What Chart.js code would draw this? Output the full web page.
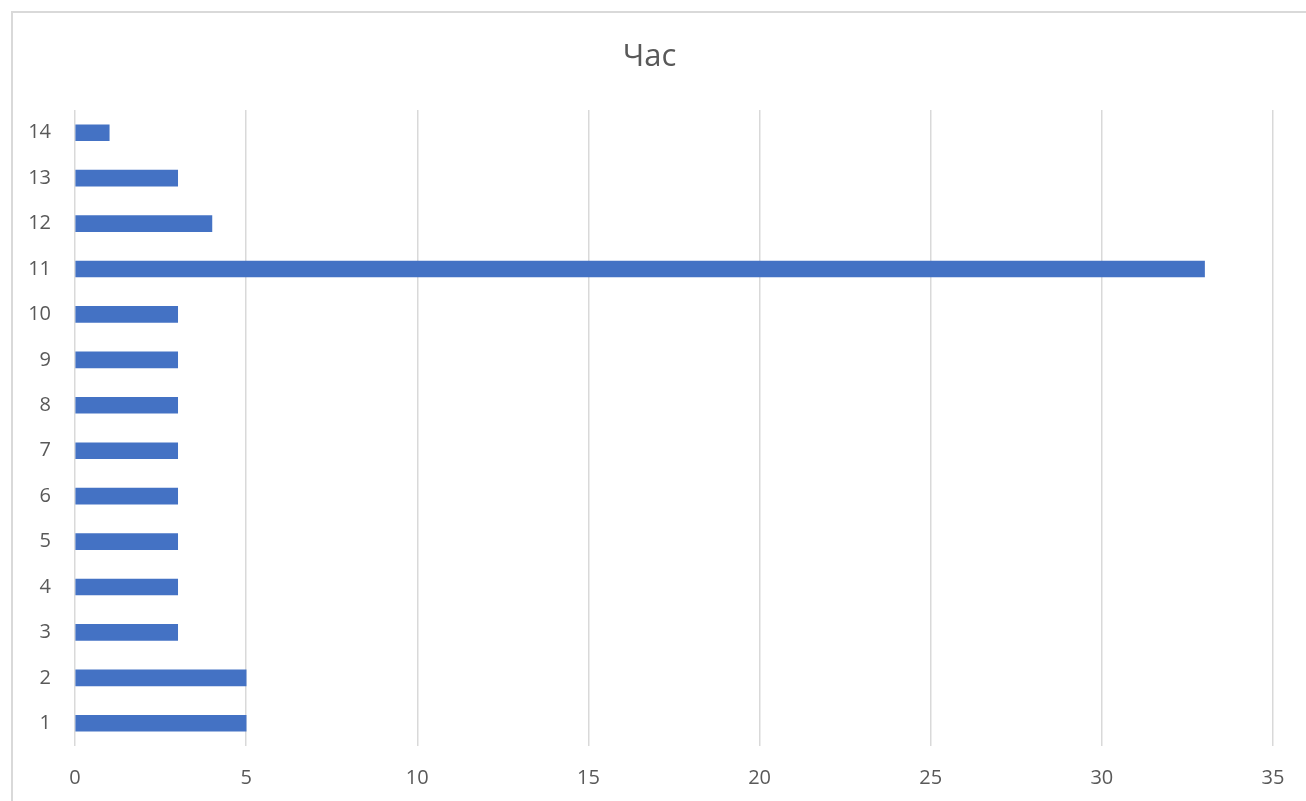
<!DOCTYPE html>
<html>
<head>
<meta charset="utf-8">
<script src="https://cdn.jsdelivr.net/npm/chart.js@4/dist/chart.umd.min.js"></script>
<style>
  body { margin: 0; background: #fff; }
  #frame {
    position: absolute; left: 11px; top: 11px; width: 1400px; height: 900px;
    border-left: 2px solid #d9d9d9; border-top: 2px solid #d9d9d9;
  }
  #wrap { position: absolute; left: 0; top: 0; width: 1306px; height: 801px; }
</style>
</head>
<body>
<div id="frame"></div>
<div id="wrap"><canvas id="myChart" width="1306" height="801"></canvas></div>
<script>
// data
var hours = ['1', '2', '3', '4', '5', '6', '7', '8', '9', '10', '11', '12', '13', '14'];
var counts = [5, 5, 3, 3, 3, 3, 3, 3, 3, 3, 33, 4, 3, 1];
var xTicks = [0, 5, 10, 15, 20, 25, 30, 35];
var chartTitle = 'Час';

var fontFamily = '"Open Sans", "Liberation Sans", sans-serif';
var textColor = '#595959';

var ctx = document.getElementById('myChart').getContext('2d');
var myChart = new Chart(ctx, {
    type: 'bar',
    data: {
        labels: hours,
        datasets: [{
            label: chartTitle,
            data: counts,
            backgroundColor: '#4472C4',
            borderWidth: 0,
            barThickness: 16
        }]
    },
    options: {
        indexAxis: 'y',
        responsive: false,
        animation: false,
        // y labels get clipped to their axis box, so the axis keeps room for them
        layout: { padding: { left: 26, right: 33, top: 39, bottom: 0 } },
        plugins: {
            legend: { display: false },
            tooltip: { enabled: false },
            title: {
                display: true,
                text: chartTitle,
                color: textColor,
                font: { family: fontFamily, size: 31, weight: 'normal', lineHeight: 1.2 },
                padding: { top: 0, bottom: 33.8 }
            }
        },
        scales: {
            x: {
                min: 0,
                max: 35,
                afterBuildTicks: function (axis) {
                    axis.ticks = xTicks.map(function (v) { return { value: v }; });
                },
                afterFit: function (axis) { axis.height = 55; },
                grid: { color: '#d9d9d9', lineWidth: 1.5, drawTicks: false },
                border: { display: false },
                ticks: {
                    color: textColor,
                    padding: 20,
                    maxRotation: 0,
                    font: { family: fontFamily, size: 20 }
                }
            },
            y: {
                reverse: true,
                afterFit: function (axis) { axis.width = 49; },
                grid: { display: false },
                border: { display: false },
                ticks: {
                    color: textColor,
                    padding: 16,
                    font: { family: fontFamily, size: 20 }
                }
            }
        }
    }
});
</script>
</body>
</html>
